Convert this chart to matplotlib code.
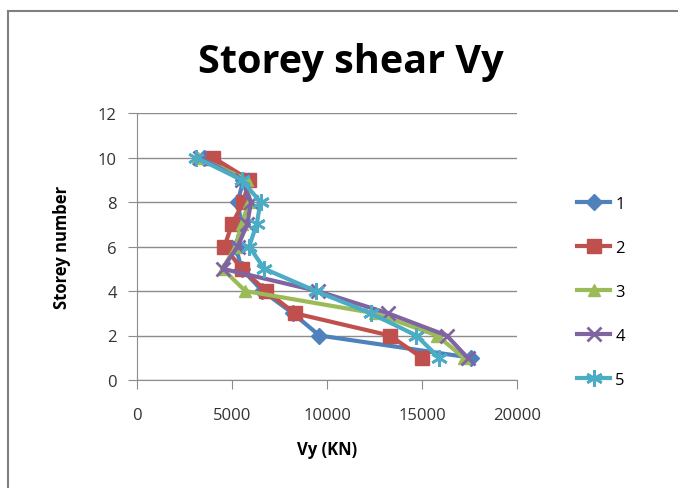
import numpy as np
import matplotlib
matplotlib.use("Agg")
import matplotlib.pyplot as plt
from matplotlib.lines import Line2D

# storey numbers and shear values (kN)
storeys = [1, 2, 3, 4, 5, 6, 7, 8, 9, 10]
vy_1 = [17600, 9600, 8200, 6600, 5500, 5200, 5500, 5300, 5600, 3500]
vy_2 = [15000, 13300, 8300, 6800, 5500, 4600, 5000, 5600, 5900, 4000]
vy_3 = [17200, 15800, 12500, 5700, 4500, 5200, 5500, 5900, 5800, 3200]
vy_4 = [17400, 16300, 13200, 9500, 4500, 5300, 5800, 6000, 5500, 3300]
vy_5 = [15900, 14700, 12300, 9400, 6700, 5900, 6300, 6500, 5500, 3100]
series_names = ["1", "2", "3", "4", "5"]

x_ticks = [0, 5000, 10000, 15000, 20000]
y_ticks = [0, 2, 4, 6, 8, 10, 12]

colors = ["#4F81BD", "#C0504D", "#9BBB59", "#8064A2", "#4BACC6"]
markers = ["D", "s", "^", "x", (6, 2, 0)]
msizes = [8, 10, 9, 10, 12]

plt.rcParams["font.family"] = ["Open Sans", "DejaVu Sans"]

fig = plt.figure(figsize=(6.78, 4.89), dpi=100)
ax = fig.add_axes([137 / 678, 1 - 381 / 489, 380 / 678, 267 / 489])

grid_c = "#8C8C8C"
all_vy = [vy_1, vy_2, vy_3, vy_4, vy_5]
for vals, name, c, m, ms in zip(all_vy, series_names, colors, markers, msizes):
    ax.plot(vals, storeys, color=c, lw=3.0, marker=m, markersize=ms,
            markeredgewidth=2 if m in ("x", (6, 2, 0)) else 1,
            markeredgecolor=c, label=name)

ax.set_xlim(0, 20000)
ax.set_ylim(0, 12)
ax.set_xticks(x_ticks)
ax.set_yticks(y_ticks)
ax.grid(axis="y", color=grid_c, lw=1)
ax.set_axisbelow(True)
for s in ["top", "right"]:
    ax.spines[s].set_visible(False)
ax.spines["left"].set_color(grid_c)
ax.spines["bottom"].set_color(grid_c)
ax.tick_params(axis="both", direction="out", length=6.5, color=grid_c,
               labelsize=12, labelcolor="#333333", pad=8)
ax.tick_params(axis="x", pad=13)

ax.set_xlabel("Vy (KN)", fontsize=12, fontweight="bold", labelpad=12)
ax.set_ylabel("Storey number", fontsize=12, fontweight="bold", labelpad=19)

fig.text(351 / 678, 1 - 63 / 489, "Storey shear Vy", fontsize=28.5,
         fontweight="bold", ha="center", va="center")

leg = fig.legend(loc="upper left", bbox_to_anchor=(562 / 678, 1 - 182 / 489),
                 frameon=False, fontsize=12, handlelength=2.0,
                 handletextpad=0.3, labelspacing=1.68)

# chart area border (top and left edges are visible)
fig.add_artist(Line2D([8 / 678, 1], [1 - 12 / 489, 1 - 12 / 489],
                      color="#808080", lw=1.5))
fig.add_artist(Line2D([8 / 678, 8 / 678], [0, 1 - 12 / 489],
                      color="#808080", lw=1.5))

fig.savefig("out.png", dpi=100)
